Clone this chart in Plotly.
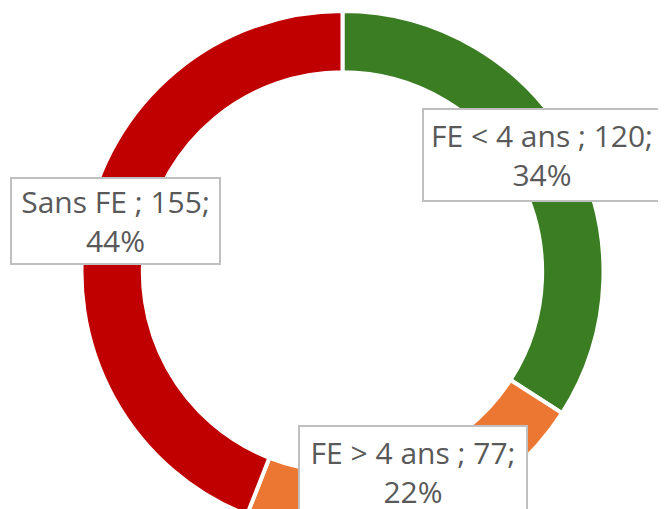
import plotly.graph_objects as go

labels = ["FE < 4 ans", "FE > 4 ans", "Sans FE"]
values = [120, 77, 155]
colors = ["#3A7D22", "#EB7732", "#C00000"]

total = sum(values)
pcts = [round(v * 100 / total) for v in values]

# page is rendered with an 8px body margin: work in figure coordinates
OFF = 8
W = 666
T = 3
R = 261
H = T + 2 * R
cx = 342.5 - OFF

fig = go.Figure(go.Pie(
    labels=labels, values=values, hole=0.765, sort=False,
    direction="clockwise", rotation=0,
    marker=dict(colors=colors, line=dict(color="white", width=4)),
    textinfo="none", hoverinfo="label+value+percent",
    domain=dict(x=[(cx - R) / W, (cx + R) / W], y=[0, 1]),
    showlegend=False,
))

# label boxes: page-pixel centers and outer sizes
label_box = [(542, 155, 240, 94), (413, 472, 230, 94), (115.5, 221, 211, 88)]
annotations = []
for lab, v, p, (x, y, bw, bh) in zip(labels, values, pcts, label_box):
    fx, fy = x - OFF, y - OFF
    annotations.append(dict(
        text=f"{lab} ; {v};<br>{p}%",
        x=fx / W, y=1 - (fy - T) / (H - T),
        xref="paper", yref="paper", xanchor="center", yanchor="middle",
        showarrow=False,
        font=dict(family="Open Sans", size=30, color="#595959"),
        bgcolor="white", bordercolor="#BFBFBF", borderwidth=2, borderpad=2,
        width=bw - 8, height=bh - 8, align="center", valign="middle",
    ))

fig.update_layout(
    width=W, height=H, margin=dict(l=0, r=0, t=T, b=0),
    paper_bgcolor="white", plot_bgcolor="white",
    annotations=annotations,
)
fig.write_html("out.html")
